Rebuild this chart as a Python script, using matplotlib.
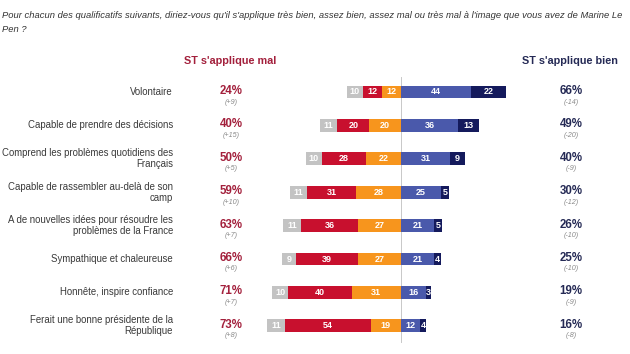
import matplotlib
matplotlib.use("Agg")
import matplotlib.pyplot as plt

plt.rcParams['font.family'] = ['Liberation Sans', 'DejaVu Sans']

categories = [
    "Volontaire",
    "Capable de prendre des décisions",
    "Comprend les problèmes quotidiens des\nFrançais",
    "Capable de rassembler au-delà de son\ncamp",
    "A de nouvelles idées pour résoudre les\nproblèmes de la France",
    "Sympathique et chaleureuse",
    "Honnête, inspire confiance",
    "Ferait une bonne présidente de la\nRépublique",
]
nsp = [10, 11, 10, 11, 11, 9, 10, 11]
tres_mal = [12, 20, 28, 31, 36, 39, 40, 54]
assez_mal = [12, 20, 22, 28, 27, 27, 31, 19]
assez_bien = [44, 36, 31, 25, 21, 21, 16, 12]
tres_bien = [22, 13, 9, 5, 5, 4, 3, 4]
st_mal = ["24%", "40%", "50%", "59%", "63%", "66%", "71%", "73%"]
st_mal_evol = ["(+9)", "(+15)", "(+5)", "(+10)", "(+7)", "(+6)", "(+7)", "(+8)"]
st_bien = ["66%", "49%", "40%", "30%", "26%", "25%", "19%", "16%"]
st_bien_evol = ["(-14)", "(-20)", "(-9)", "(-12)", "(-10)", "(-10)", "(-9)", "(-8)"]

C_GREY = "#c3c3c3"
C_RED = "#c8102e"
C_ORANGE = "#f7951d"
C_BLUE = "#4a59ab"
C_NAVY = "#141a5c"
C_PCT_RED = "#a3203c"
C_PCT_NAVY = "#252a55"

W, H = 630, 354
fig = plt.figure(figsize=(6.3, 3.54), dpi=100)
ax = fig.add_axes([0, 0, 1, 1])
cx = 401.0
ppu = 1.59
row0 = 92.0
dy = 33.4
ax.set_xlim(-cx / ppu, (W - cx) / ppu)
ax.set_ylim((H - row0) / dy, -row0 / dy)
ax.axis('off')

def px(x):
    return (x - cx) / ppu

def py(y):
    return (y - row0) / dy

bh = 0.38
fs_bar = 6.5
for i in range(len(categories)):
    left = 0
    segs_left = [(assez_mal[i], C_ORANGE), (tres_mal[i], C_RED), (nsp[i], C_GREY)]
    for v, c in segs_left:
        ax.barh(i, -v, left=left, height=bh, color=c, edgecolor='none', zorder=2)
        ax.text(left - v / 2, i, str(v), ha='center', va='center', color='white',
                fontsize=fs_bar, fontweight='bold', zorder=3)
        left -= v
    right = 0
    for v, c in [(assez_bien[i], C_BLUE), (tres_bien[i], C_NAVY)]:
        ax.barh(i, v, left=right, height=bh, color=c, edgecolor='none', zorder=2)
        ax.text(right + v / 2, i, str(v), ha='center', va='center', color='white',
                fontsize=fs_bar, fontweight='bold', zorder=3)
        right += v

    ax.text(px(173), i, categories[i], ha='right', va='center', fontsize=6.9,
            color='#3a3a3a', linespacing=1.1)
    ax.text(px(231), i - 1 / dy, st_mal[i], ha='center', va='center', fontsize=8.3,
            fontweight='bold', color=C_PCT_RED)
    ax.text(px(231), i + 10 / dy, st_mal_evol[i], ha='center', va='center', fontsize=5.2,
            fontstyle='italic', color='#8a8a8a')
    ax.text(px(571), i - 1 / dy, st_bien[i], ha='center', va='center', fontsize=8.3,
            fontweight='bold', color=C_PCT_NAVY)
    ax.text(px(571), i + 10 / dy, st_bien_evol[i], ha='center', va='center', fontsize=5.2,
            fontstyle='italic', color='#8a8a8a')

ax.plot([0, 0], [py(77), py(342)], color='#c8c8c8', lw=0.7, zorder=1)

ax.text(px(230), py(61), "ST s'applique mal", ha='center', va='center', fontsize=7.8,
        fontweight='bold', color=C_PCT_RED)
ax.text(px(570), py(61), "ST s'applique bien", ha='center', va='center', fontsize=7.8,
        fontweight='bold', color=C_PCT_NAVY)

fig.text(2 / W, 1 - 22.5 / H,
         "Pour chacun des qualificatifs suivants, diriez-vous qu'il s'applique très bien, assez bien, "
         "assez mal ou très mal à l'image que vous avez de Marine Le\nPen ?",
         ha='left', va='center', fontsize=6.75, fontstyle='italic', color='#333333',
         linespacing=1.6)

fig.savefig("out.png", dpi=100, facecolor='white')
